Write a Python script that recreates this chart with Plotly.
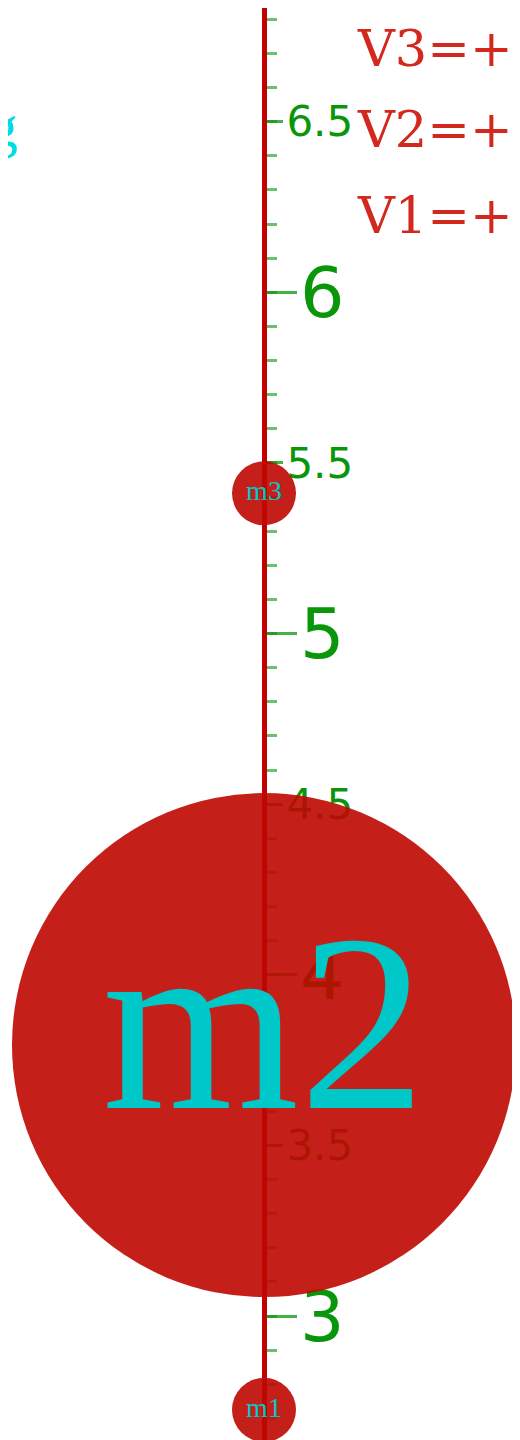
import plotly.graph_objects as go

# ---- data ----
point_labels = ["m1", "m2", "m3"]
point_values = [2.725, 3.794, 5.411]
marker_sizes = [64, 504, 64]
label_font_sizes = [28, 253, 28]
major_ticks = [3, 4, 5, 6]
half_ticks = [3.5, 4.5, 5.5, 6.5]
half_tick_text = ["3.5", "4.5", "5.5", "6.5"]
legend_texts = ["V3=+", "V2=+", "V1=+"]
side_text = "g"

W, H = 512, 1432
Y_RANGE = [2.6366, 6.8332]


def px(x):
    return x / W


def py(y):
    return 1 - y / H


fig = go.Figure()
fig.add_trace(go.Scatter(
    x=[0] * len(point_values), y=point_values, mode="markers+text",
    text=point_labels, textposition="middle center",
    marker=dict(size=marker_sizes, color="rgb(190,8,0)", opacity=0.9, line=dict(width=0)),
    textfont=dict(family="Liberation Serif", size=label_font_sizes, color="rgb(0,200,200)"),
    cliponaxis=False, showlegend=False, hoverinfo="skip",
))
fig.add_trace(go.Scatter(x=[], y=[], yaxis="y2", showlegend=False, hoverinfo="skip"))

green = "rgb(10,150,10)"
fig.update_layout(
    width=W, height=H,
    margin=dict(l=0, r=0, t=0, b=0),
    paper_bgcolor="white", plot_bgcolor="white",
    showlegend=False,
    xaxis=dict(visible=False, range=[-1, 1], fixedrange=True),
    yaxis=dict(
        range=Y_RANGE, anchor="free", position=0.5, side="right",
        showgrid=False, zeroline=False,
        showline=True, linecolor="rgb(195,0,0)", linewidth=5,
        tickmode="array", tickvals=major_ticks, ticktext=[str(v) for v in major_ticks],
        ticks="outside", ticklen=30, tickwidth=3, tickcolor="rgba(10,150,10,0.75)",
        tickfont=dict(family="DejaVu Sans", size=70, color=green),
        ticklabelstandoff=-11,
        minor=dict(dtick=0.1, tick0=0, ticks="outside", ticklen=10, tickwidth=3,
                   tickcolor="rgba(10,150,10,0.6)", showgrid=False),
        layer="below traces",
    ),
    yaxis2=dict(
        range=Y_RANGE, overlaying="y", anchor="free", position=0.5, side="right",
        showgrid=False, zeroline=False,
        showline=True, linecolor="rgb(195,0,0)", linewidth=5,
        tickmode="array", tickvals=half_ticks, ticktext=half_tick_text,
        ticks="outside", ticklen=16, tickwidth=3, tickcolor="rgba(10,150,10,0.75)",
        tickfont=dict(family="DejaVu Sans", size=42, color=green),
        ticklabelstandoff=-5,
        layer="below traces",
    ),
)

for txt, yc in zip(legend_texts, [40, 122, 208]):
    fig.add_annotation(
        text=txt, xref="paper", yref="paper", x=px(507), y=py(yc),
        xanchor="right", yanchor="middle", showarrow=False,
        font=dict(family="DejaVu Serif", size=51, color="rgb(210,40,30)"),
    )

fig.add_annotation(
    text=side_text, xref="paper", yref="paper", x=px(12), y=py(118),
    xanchor="right", yanchor="middle", showarrow=False,
    font=dict(family="Liberation Serif", size=60, color="rgb(0,220,230)"),
)

fig.write_html("out.html")
